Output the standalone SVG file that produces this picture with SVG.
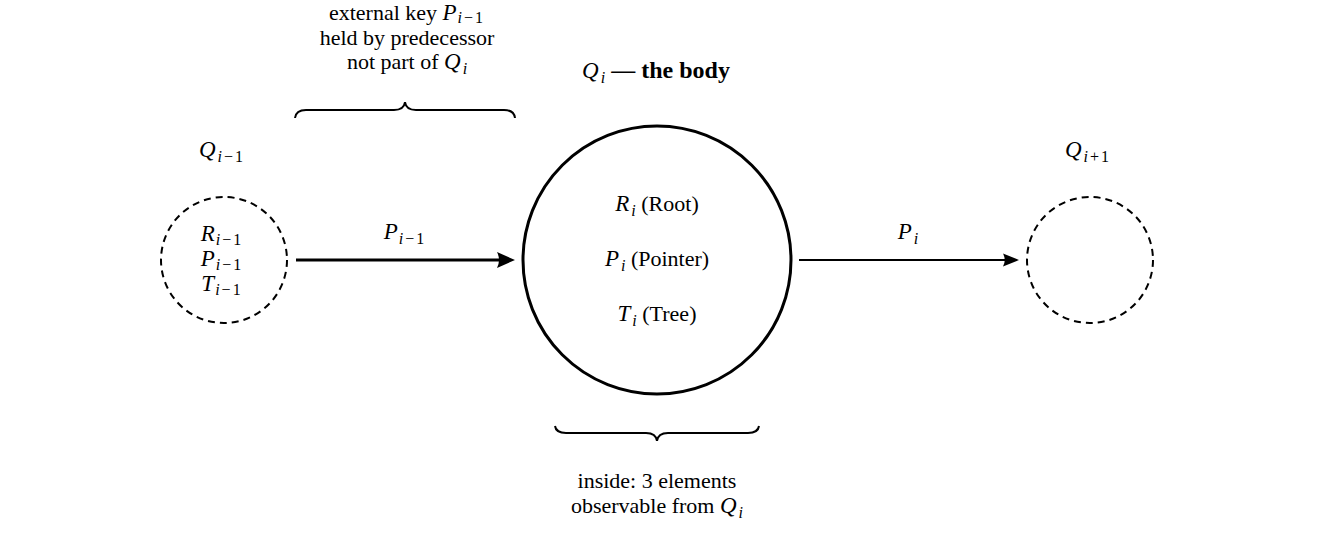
<svg xmlns="http://www.w3.org/2000/svg" width="1330" height="560" viewBox="0 0 1330 560">
<style>
text{font-family:"Liberation Serif","Times New Roman",serif;font-size:22px;fill:#000}
.m{font-style:italic;font-size:23px}
.s{font-size:16px;letter-spacing:2px}
.si{font-size:16px;font-style:italic}
.b{font-weight:bold;font-size:24px}
.dash{fill:none;stroke:#000;stroke-width:2;stroke-dasharray:7,5}
.line{fill:none;stroke:#000}
.brace{fill:none;stroke:#000;stroke-width:2}
</style>
<rect width="1330" height="560" fill="#fff"/>
<g id="prev">
<circle class="dash" cx="224" cy="260" r="63"/>
<text x="222" y="157" text-anchor="middle"><tspan class="m">Q</tspan><tspan class="s" dx="2" dy="5"><tspan font-style="italic">i</tspan>−1</tspan></text>
<text x="222" y="241" text-anchor="middle"><tspan class="m">R</tspan><tspan class="s" dx="1" dy="4"><tspan font-style="italic">i</tspan>−1</tspan></text>
<text x="222" y="266" text-anchor="middle"><tspan class="m">P</tspan><tspan class="s" dx="1" dy="4"><tspan font-style="italic">i</tspan>−1</tspan></text>
<text x="222" y="291" text-anchor="middle"><tspan class="m">T</tspan><tspan class="s" dx="1" dy="4"><tspan font-style="italic">i</tspan>−1</tspan></text>
</g>
<g id="body">
<circle cx="657" cy="260" r="134" fill="none" stroke="#000" stroke-width="3"/>
<text x="656" y="78" text-anchor="middle"><tspan class="m">Q</tspan><tspan class="si" dx="2" dy="5">i</tspan><tspan dy="-5" class="b"> — the body</tspan></text>
<text x="657" y="211" text-anchor="middle"><tspan class="m">R</tspan><tspan class="si" dx="2" dy="5">i</tspan><tspan dy="-5">  (Root)</tspan></text>
<text x="657" y="266" text-anchor="middle"><tspan class="m">P</tspan><tspan class="si" dx="2" dy="5">i</tspan><tspan dy="-5">  (Pointer)</tspan></text>
<text x="657" y="321" text-anchor="middle"><tspan class="m">T</tspan><tspan class="si" dx="2" dy="5">i</tspan><tspan dy="-5">  (Tree)</tspan></text>
</g>
<g id="next">
<circle class="dash" cx="1090" cy="260" r="63"/>
<text x="1088" y="157" text-anchor="middle"><tspan class="m">Q</tspan><tspan class="s" dx="2" dy="5"><tspan font-style="italic">i</tspan>+1</tspan></text>
</g>
<g id="topnote">
<path class="brace" d="M295,118 Q296,110 306,110 L394,110 Q404,110 405,102 Q406,110 416,110 L504,110 Q514,110 515,118"/>
<text x="407" y="20" text-anchor="middle">external key <tspan class="m">P</tspan><tspan class="s" font-size="15" dx="1" dy="3"><tspan font-style="italic">i</tspan>−1</tspan></text>
<text x="407" y="45" text-anchor="middle">held by predecessor</text>
<text x="407" y="69" text-anchor="middle">not part of <tspan class="m">Q</tspan><tspan class="si" dx="2" dy="5">i</tspan></text>
</g>
<g id="bottomnote">
<path class="brace" d="M555,426 Q556,433 566,433 L646,433 Q656,433 657,441 Q658,433 668,433 L748,433 Q758,433 759,426"/>
<text x="657" y="488" text-anchor="middle">inside: 3 elements</text>
<text x="657" y="513" text-anchor="middle">observable from <tspan class="m">Q</tspan><tspan class="si" dx="2" dy="5">i</tspan></text>
</g>
<g id="connectors">
<line class="line" x1="296" y1="260" x2="508" y2="260" stroke-width="3"/>
<path d="M515,260 L497,252 Q501,260 497,268 Z" fill="#000"/>
<text x="405" y="239" text-anchor="middle"><tspan class="m">P</tspan><tspan class="s" dx="1" dy="5"><tspan font-style="italic">i</tspan>−1</tspan></text>
<line class="line" x1="799" y1="260" x2="1012" y2="260" stroke-width="2"/>
<path d="M1019,260 L1003,253.5 Q1006.5,260 1003,266.5 Z" fill="#000"/>
<text x="908" y="239" text-anchor="middle"><tspan class="m">P</tspan><tspan class="si" dx="2" dy="5">i</tspan></text>
</g>
</svg>
